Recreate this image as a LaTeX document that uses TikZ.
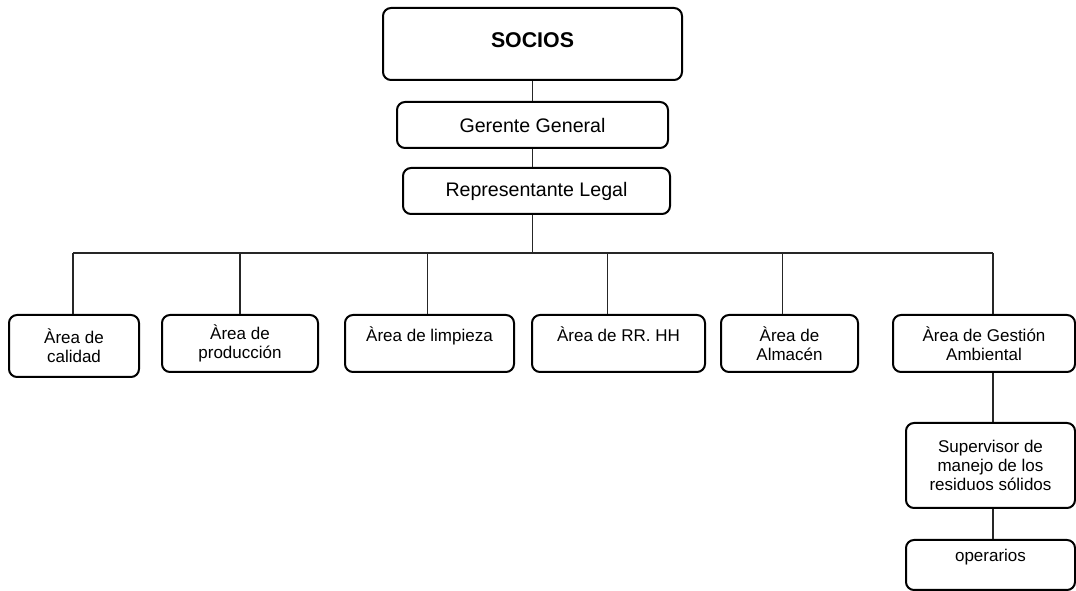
\documentclass[tikz,border=0pt]{standalone}
\usepackage{fontspec}
\setmainfont{Liberation Sans}
\begin{document}
\begin{tikzpicture}[x=0.75pt,y=-0.75pt,
  box/.style={draw=black, line width=1.5pt, rounded corners=6pt, inner sep=0pt, align=center},
  big/.style={font=\fontsize{14.7}{17}\selectfont},
  small/.style={font=\fontsize{12.75}{14.3}\selectfont},
  conn/.style={draw=black!85, line width=0.8pt}]
\useasboundingbox (0,0) rectangle (1076,591);
% top
\node[box, minimum width=299*0.75pt, minimum height=72*0.75pt] (socios) at (532.5,44) {};
\node[font=\fontsize{16}{19}\selectfont\bfseries] (sociostxt) at (532.5,40) {SOCIOS};
\node[box, big, minimum width=271*0.75pt, minimum height=46*0.75pt] (gerente) at (532.5,125) {Gerente General};
\node[box, big, minimum width=267*0.75pt, minimum height=46*0.75pt] (rep) at (536.5,191) {Representante Legal};
% second row
\node[box, small, minimum width=130*0.75pt, minimum height=62*0.75pt] (calidad) at (74,346) {Àrea de\\calidad};
\node[box, small, minimum width=156*0.75pt, minimum height=57*0.75pt] (produccion) at (240,343.5) {Àrea de\\producción};
\node[box, small, minimum width=169*0.75pt, minimum height=57*0.75pt] (limpieza) at (429.5,343.5) {Àrea de limpieza\\\mbox{}};
\node[box, small, minimum width=173*0.75pt, minimum height=57*0.75pt] (rrhh) at (618.5,343.5) {Àrea de RR. HH\\\mbox{}};
\node[box, small, minimum width=137*0.75pt, minimum height=57*0.75pt] (almacen) at (789.5,343.5) {Àrea de\\Almacén};
\node[box, small, minimum width=182*0.75pt, minimum height=57*0.75pt] (gestion) at (984,343.5) {Àrea de Gestión\\Ambiental};
\node[box, small, minimum width=169*0.75pt, minimum height=85*0.75pt] (supervisor) at (990.5,465.5) {Supervisor de\\manejo de los\\residuos sólidos};
\node[box, small, minimum width=169*0.75pt, minimum height=50*0.75pt] (operarios) at (990.5,565) {operarios\\\mbox{}};
% connectors
\coordinate (busL) at (73,253);
\coordinate (busR) at (993,253);
\draw[conn] (socios.south) -- (gerente.north);
\draw[conn] (gerente.south) -- (gerente.south |- rep.north);
\draw[conn] (gerente.south |- rep.south) -- (gerente.south |- busL);
\draw[conn] (busL) -- (busR);
\draw[conn] (busL) -- (busL |- calidad.north);
\draw[conn] (produccion.north) -- (produccion.north |- busL);
\draw[conn] ([xshift=-1.5]limpieza.north) -- ([xshift=-1.5]limpieza.north |- busL);
\draw[conn] ([xshift=-8.5]rrhh.north) -- ([xshift=-8.5]rrhh.north |- busL);
\draw[conn] ([xshift=-5.5]almacen.north) -- ([xshift=-5.5]almacen.north |- busL);
\draw[conn] (busR) -- (busR |- gestion.north);
\draw[conn] (busR |- gestion.south) -- (busR |- supervisor.north);
\draw[conn] (busR |- supervisor.south) -- (busR |- operarios.north);
\end{tikzpicture}
\end{document}
